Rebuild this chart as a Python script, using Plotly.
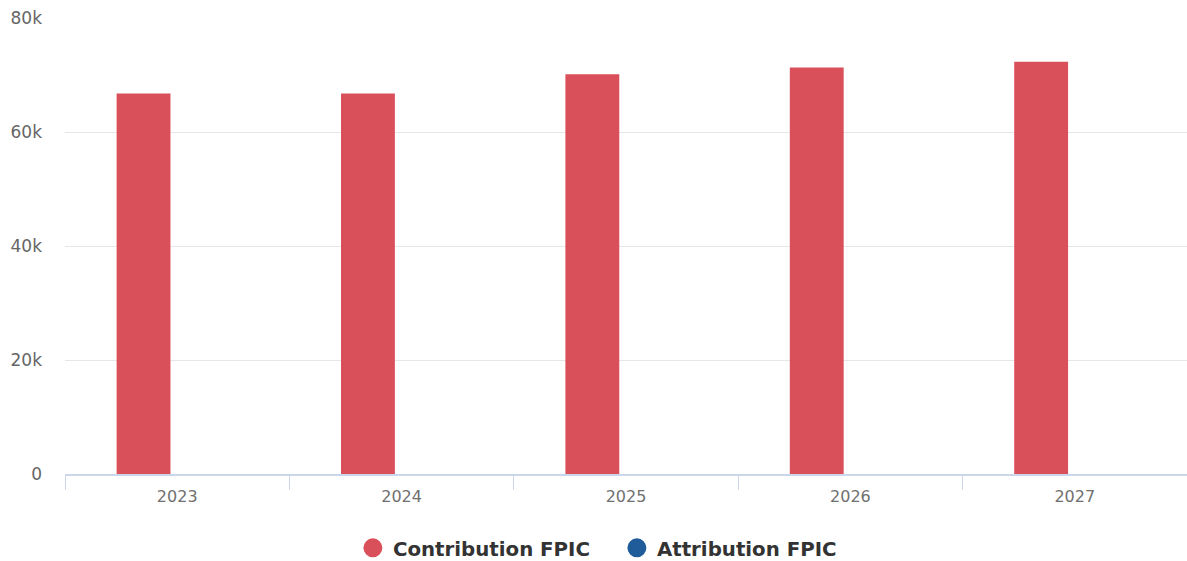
import plotly.graph_objects as go

years = ["2023", "2024", "2025", "2026", "2027"]
contribution_fpic = [66800, 66800, 70200, 71350, 72400]
attribution_fpic = [0, 0, 0, 0, 0]
series_names = ["Contribution FPIC", "Attribution FPIC"]
series_colors = ["#d9505a", "#1f5c99"]

fig = go.Figure()
for name, vals, col in zip(series_names, [contribution_fpic, attribution_fpic], series_colors):
    fig.add_trace(go.Bar(x=years, y=vals, name=name, marker=dict(color=col, line=dict(width=0)),
                         showlegend=False, legendgroup=name))
    fig.add_trace(go.Scatter(x=[None], y=[None], mode="markers", name=name, legendgroup=name,
                             marker=dict(symbol="circle", size=20, color=col,
                                         line=dict(width=3, color=col))))

fig.update_layout(
    width=1187, height=561,
    margin=dict(l=65, r=0, t=18, b=87),
    paper_bgcolor="white", plot_bgcolor="white",
    barmode="group", bargap=0.4, bargroupgap=0.2,
    font=dict(family="DejaVu Sans", color="#666666"),
    legend=dict(orientation="h", xref="container", yref="container", x=0.5197, xanchor="center",
                y=0.0232, yanchor="middle", font=dict(size=19.8, color="#333333", weight="bold"),
                itemsizing="trace", entrywidth=219, entrywidthmode="pixels"),
    xaxis=dict(type="category", tickson="boundaries", ticks="outside", ticklen=14, tickcolor="#ccd6eb",
               showline=True, linecolor="#ccd6eb", linewidth=2, showgrid=False,
               ticklabelstandoff=7,
               tickfont=dict(size=16, color="#707070")),
    yaxis=dict(range=[0, 80060], tickvals=[0, 20000, 40000, 60000, 80000],
               ticktext=["0", "20k", "40k", "60k", "80k"], showgrid=True, gridcolor="#e6e6e6",
               gridwidth=1, zeroline=False, ticklabelstandoff=22,
               tickfont=dict(size=17, color="#666666")),
)
fig.write_html("out.html", config={"displayModeBar": False},
               post_script="document.body.style.margin='0';document.body.style.overflow='hidden';")
